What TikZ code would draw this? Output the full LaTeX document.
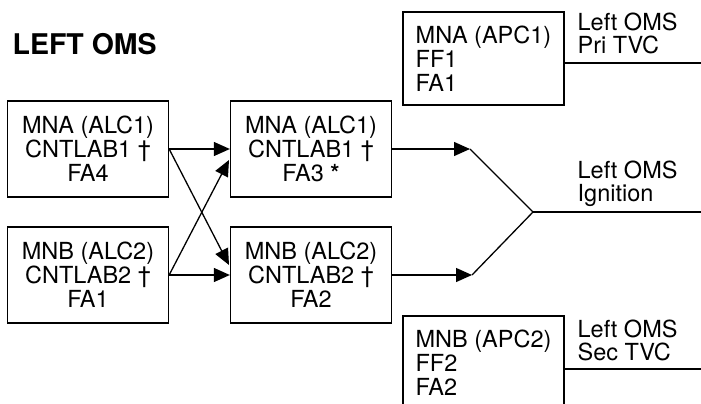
\documentclass[tikz,border=0pt]{standalone}
\usepackage{fontspec}
\setmainfont{TeX Gyre Heros}
\usetikzlibrary{arrows.meta}

\begin{document}
\begin{tikzpicture}[x=1pt, y=-1pt, line width=1.3pt,
        lblbox/.style={draw, minimum width=161pt, minimum height=96pt, inner sep=0pt,
            align=center, font=\fontsize{23.5}{24}\selectfont},
        apcbox/.style={lblbox, minimum height=93pt, align=left},
        outlbl/.style={anchor=west, inner sep=0pt, align=left, font=\fontsize{23.5}{23}\selectfont},
        tip/.style={-{Triangle[length=16pt, width=14pt]}}]
        \useasboundingbox (0,0) rectangle (701,404);

        \node[anchor=west, inner sep=0pt, font=\bfseries\fontsize{28.5}{30}\selectfont] (title) at (12,44) {LEFT OMS};

        \node[lblbox] (mnaL) at (88,149) {MNA (ALC1)\\CNTLAB1 \textdagger\\FA4};
        \node[lblbox] (mnbL) at (88,275) {MNB (ALC2)\\CNTLAB2 \textdagger\\FA1};
        \node[lblbox] (mnaR) at (311,149) {MNA (ALC1)\\CNTLAB1 \textdagger\\FA3 {\bfseries *}};
        \node[lblbox] (mnbR) at (311,275) {MNB (ALC2)\\CNTLAB2 \textdagger\\FA2};

        \node[apcbox] (apc1) at (483.5,58.5) {MNA (APC1)\\FF1\\FA1};
        \node[apcbox] (apc2) at (483.5,362.5) {MNB (APC2)\\FF2\\FA2};

        \node[outlbl] (prilbl) at (577,33.5) {Left OMS\\Pri TVC};
        \node[outlbl] (ignlbl) at (577,183.5) {Left OMS\\Ignition};
        \node[outlbl] (seclbl) at (577,340) {Left OMS\\Sec TVC};

        % crossed arrows
        \coordinate (aIn) at (229,160);
        \coordinate (bIn) at (229,265);
        \draw[tip] (mnaL.east) -- (mnaR.west);
        \draw[tip] (mnaL.east) -- (bIn);
        \draw[tip] (mnbL.east) -- (mnbR.west);
        \draw[tip] (mnbL.east) -- (aIn);

        % ignition
        \coordinate (aTip) at (470,149);
        \coordinate (bTip) at (472,275);
        \coordinate (ign) at (533,212);
        \coordinate (ignEnd) at (701,212);
        \draw[tip] (mnaR.east) -- (aTip);
        \draw[tip] (mnbR.east) -- (bTip);
        \draw (aTip) -- (ign) -- (bTip);
        \draw (ign) -- (ignEnd);

        % tvc
        \coordinate (priA) at (564,63);
        \coordinate (priEnd) at (701,63);
        \coordinate (secA) at (564,369);
        \coordinate (secEnd) at (701,369);
        \draw (priA) -- (priEnd);
        \draw (secA) -- (secEnd);
    \end{tikzpicture}
\end{document}
